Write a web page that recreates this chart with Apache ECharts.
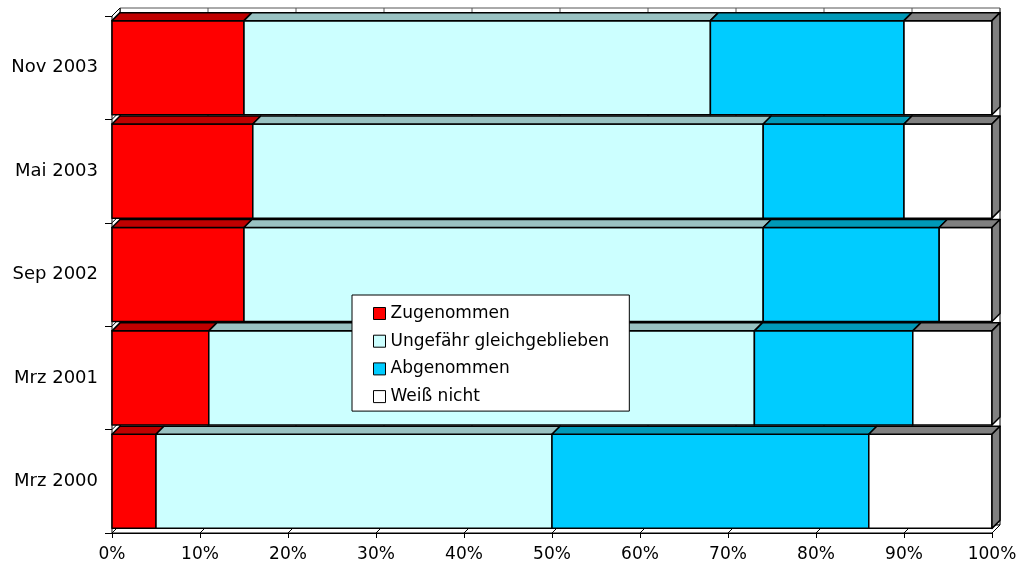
<!DOCTYPE html>
<html>
<head>
<meta charset="utf-8">
<script src="https://cdn.jsdelivr.net/npm/echarts@6/dist/echarts.min.js"></script>
<style>html,body{margin:0;padding:0;background:#fff}#c{width:1020px;height:571px}</style>
</head>
<body>
<div id="c"></div>
<script>
// Data (categories from bottom to top)
const categories = ['Mrz 2000', 'Mrz 2001', 'Sep 2002', 'Mai 2003', 'Nov 2003'];
const zugenommen = [5, 11, 15, 16, 15];
const gleichgeblieben = [45, 62, 59, 58, 53];
const abgenommen = [36, 18, 20, 16, 22];
const weissNicht = [14, 9, 6, 10, 10];
const seriesNames = ['Zugenommen', 'Ungefähr gleichgeblieben', 'Abgenommen', 'Weiß nicht'];
const xTicks = [0, 10, 20, 30, 40, 50, 60, 70, 80, 90, 100];

const frontColors = ['#FF0000', '#CCFFFF', '#00CCFF', '#FFFFFF'];
const topColors = ['#C00000', '#99C2C2', '#0099B8', '#808080'];
const DEPTH = 8;
const FONT = 'DejaVu Sans';

const allValues = [zugenommen, gleichgeblieben, abgenommen, weissNicht];
const cum = categories.map(() => 0);
const stackedData = allValues.map(vals => vals.map((v, i) => {
  const s = cum[i]; cum[i] += v; return [s, cum[i], i];
}));

function makeRender(si) {
  const last = si === allValues.length - 1;
  return function (params, api) {
    const cat = api.value(2);
    const s = api.coord([api.value(0), cat]);
    const e = api.coord([api.value(1), cat]);
    const band = api.size([0, 1])[1];
    const h = band * 0.91;
    const d = DEPTH;
    const x0 = s[0], x1 = e[0], yt = s[1] - h / 2, yb = s[1] + h / 2;
    const line = { stroke: '#000', lineWidth: 1.5, lineJoin: 'round' };
    const children = [
      { type: 'rect', shape: { x: x0, y: yt, width: x1 - x0, height: h },
        style: Object.assign({ fill: frontColors[si] }, line) },
      { type: 'polygon', shape: { points: [[x0, yt], [x0 + d, yt - d], [x1 + d, yt - d], [x1, yt]] },
        style: Object.assign({ fill: topColors[si] }, line) }
    ];
    if (last) {
      children.push({ type: 'polygon', shape: { points: [[x1, yt], [x1 + d, yt - d], [x1 + d, yb - d], [x1, yb]] },
        style: Object.assign({ fill: '#808080' }, line) });
    }
    return { type: 'group', children: children };
  };
}

function renderFrame(params, api) {
  const cs = params.coordSys;
  const d = DEPTH;
  const x = cs.x, y = cs.y, w = cs.width, h = cs.height;
  const ch = [];
  const thin = { stroke: '#555', lineWidth: 1 };
  // back wall
  ch.push({ type: 'rect', shape: { x: x + d, y: y - d, width: w, height: h }, style: { fill: '#fff', stroke: '#555', lineWidth: 1 } });
  xTicks.forEach(v => {
    const px = api.coord([v, 0])[0];
    ch.push({ type: 'line', shape: { x1: px + d, y1: y - d, x2: px + d, y2: y + h - d }, style: thin });
  });
  // left wall
  ch.push({ type: 'polygon', shape: { points: [[x, y], [x + d, y - d], [x + d, y + h - d], [x, y + h]] }, style: { fill: '#fff', stroke: '#000', lineWidth: 1 } });
  // floor
  ch.push({ type: 'polygon', shape: { points: [[x, y + h], [x + d, y + h - d], [x + w + d, y + h - d], [x + w, y + h]] }, style: { fill: '#fff', stroke: '#000', lineWidth: 1 } });
  xTicks.forEach(v => {
    const px = api.coord([v, 0])[0];
    ch.push({ type: 'line', shape: { x1: px, y1: y + h, x2: px + d, y2: y + h - d }, style: { stroke: '#000', lineWidth: 1 } });
  });
  // category boundaries on left wall
  const band = api.size([0, 1])[1];
  for (let i = 0; i <= categories.length; i++) {
    const py = y + h - band * i;
    ch.push({ type: 'line', shape: { x1: x, y1: py, x2: x + d, y2: py - d }, style: { stroke: '#000', lineWidth: 1 } });
  }
  return { type: 'group', children: ch };
}

const series = [{
  type: 'custom', name: 'frame', z: 1, silent: true,
  renderItem: renderFrame, data: [[0, 0, 0]], encode: { x: 0, y: 2 }
}];
allValues.forEach((vals, si) => {
  series.push({
    type: 'custom', name: seriesNames[si], z: 2,
    renderItem: makeRender(si),
    itemStyle: { color: frontColors[si], borderColor: '#000', borderWidth: 1 },
    data: stackedData[si], encode: { x: [0, 1], y: 2 }
  });
});

const chart = echarts.init(document.getElementById('c'), null, { renderer: 'canvas' });
chart.setOption({
  animation: false,
  backgroundColor: '#fff',
  grid: { left: 112, right: 28, top: 16, bottom: 38 },
  legend: {
    data: seriesNames, orient: 'vertical', left: 352, top: 295,
    padding: [10, 20, 6, 21], itemGap: 10.7, itemWidth: 12, itemHeight: 12,
    icon: 'rect', backgroundColor: '#fff', borderColor: '#000', borderWidth: 1,
    itemStyle: { borderColor: '#000', borderWidth: 1 },
    textStyle: { fontFamily: FONT, fontSize: 17, lineHeight: 16, color: '#000', padding: [0, 0, 0, 0] },
    selectedMode: false
  },
  xAxis: {
    type: 'value', min: 0, max: 100, interval: 10,
    axisLine: { show: true, lineStyle: { color: '#000', width: 1 } },
    axisTick: { show: true, length: 5, lineStyle: { color: '#000' } },
    splitLine: { show: false },
    axisLabel: { formatter: '{value}%', fontFamily: FONT, fontSize: 17, color: '#000', margin: 13 }
  },
  yAxis: {
    type: 'category', data: categories,
    axisLine: { show: true, lineStyle: { color: '#000', width: 1 } },
    axisTick: { show: true, length: 7, lineStyle: { color: '#000' } },
    axisLabel: { fontFamily: FONT, fontSize: 18, color: '#000', margin: 14 }
  },
  series: series
});
</script>
</body>
</html>
